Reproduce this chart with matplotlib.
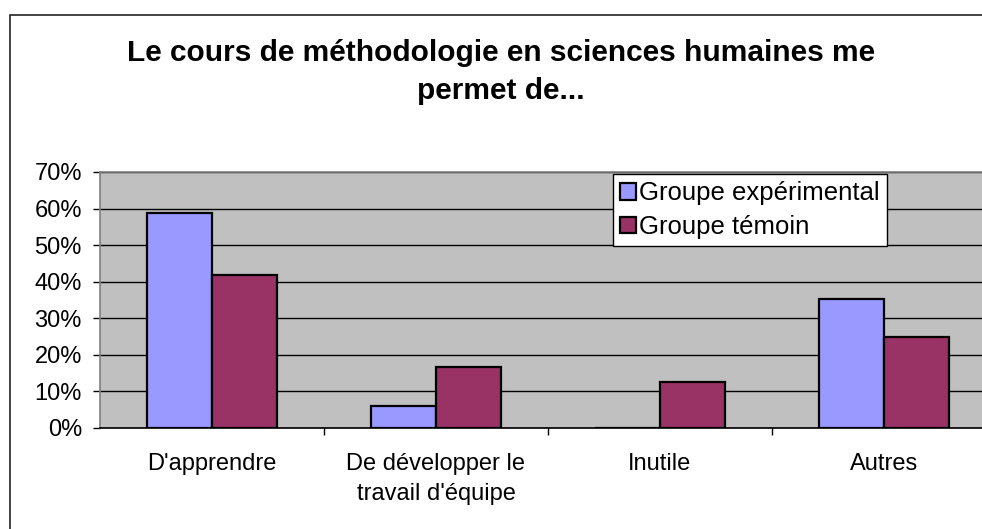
import matplotlib
matplotlib.use("Agg")
import matplotlib.pyplot as plt
from matplotlib.patches import Rectangle
import numpy as np

plt.rcParams['font.family'] = ['Liberation Sans', 'DejaVu Sans']

categories = ["D'apprendre", "De développer le\ntravail d'équipe", "Inutile", "Autres"]
series_names = ["Groupe expérimental", "Groupe témoin"]
experimental = [58.8, 5.9, 0.0, 35.3]
temoin = [41.7, 16.7, 12.5, 25.0]
yticks = [0, 10, 20, 30, 40, 50, 60, 70]
title = "Le cours de méthodologie en sciences humaines me\npermet de..."

W, H = 982, 529
fig = plt.figure(figsize=(W / 100, H / 100), dpi=100)
fig.patch.set_facecolor('white')

# outer chart-area border (extends past right/bottom edges)
fig.patches.append(Rectangle((10 / W, -0.05), 1.2, 1 - 15 / H + 0.05,
                             transform=fig.transFigure, fill=False,
                             edgecolor='#222222', linewidth=1.2, zorder=0))

left, right, bottom, top = 100 / W, 996 / W, 1 - 428 / H, 1 - 172 / H
ax = fig.add_axes([left, bottom, right - left, top - bottom])
ax.set_facecolor('#C0C0C0')

x = np.arange(len(categories))
w = 0.288
ax.bar(x - w, experimental, width=w, align='edge', color='#9999FF',
       edgecolor='black', linewidth=1.6, label=series_names[0], zorder=3)
ax.bar(x, temoin, width=w, align='edge', color='#993366',
       edgecolor='black', linewidth=1.6, label=series_names[1], zorder=3)

ax.set_xlim(-0.5, len(categories) - 0.5)
ax.set_ylim(0, 70)
ax.set_yticks(yticks)
ax.set_yticklabels([f"{v}%" for v in yticks])
ax.yaxis.grid(True, color='black', linewidth=1.0, zorder=1)
ax.set_axisbelow(True)

ax.set_xticks(x)
ax.set_xticklabels(categories, linespacing=1.45)
ax.set_xticks(np.arange(len(categories)) + 0.5, minor=True)
ax.tick_params(axis='x', which='major', length=0, pad=18, labelsize=17)
ax.tick_params(axis='x', which='minor', length=5, width=1, direction='out', color='black')
ax.tick_params(axis='y', length=5, width=1, direction='out', pad=8, labelsize=17, color='black')

for s in ['top', 'left', 'right']:
    ax.spines[s].set_color('#808080')
    ax.spines[s].set_linewidth(1.2)
ax.spines['bottom'].set_color('black')
ax.spines['bottom'].set_linewidth(1.2)

fig.text(501 / W, 1 - 72 / H, title, ha='center', va='center',
         fontsize=21.5, fontweight='bold', linespacing=1.42)

leg = ax.legend(loc='upper left', bbox_to_anchor=(613 / W, 1 - 174.3 / H),
                bbox_transform=fig.transFigure, fontsize=18.5, frameon=True,
                fancybox=False, shadow=False, borderpad=0.28, labelspacing=0.36,
                handlelength=0.6, handleheight=0.6, handletextpad=0.15,
                borderaxespad=0, framealpha=1.0)
leg.get_frame().set_edgecolor('black')
leg.get_frame().set_linewidth(1.0)
leg.get_frame().set_facecolor('white')
leg.set_zorder(5)

fig.savefig('out.png', dpi=100)
